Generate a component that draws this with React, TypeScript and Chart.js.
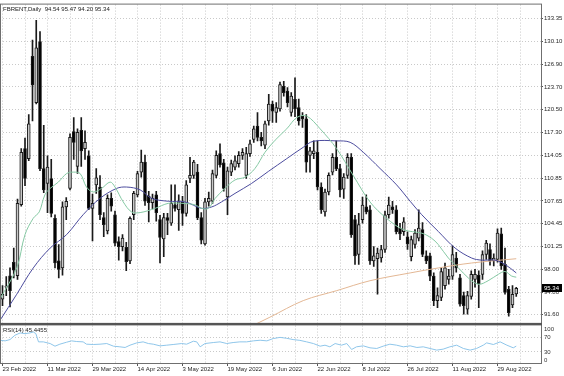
import React, { useEffect, useRef } from 'react';
import { Chart, registerables } from 'chart.js';

Chart.register(...registerables);

const symbolTitle = 'FBRENT,Daily';
const rsiTitle = 'RSI(14)';
const rsiLastText = '45.4455';

const dateLabels = [
  '23 Feb 2022', '11 Mar 2022', '29 Mar 2022', '14 Apr 2022', '3 May 2022', '19 May 2022',
  '6 Jun 2022', '22 Jun 2022', '8 Jul 2022', '26 Jul 2022', '11 Aug 2022', '29 Aug 2022',
];
const barsPerLabel = 12;
const barsPerGrid = 6;

const priceTicks = [133.35, 130.1, 126.9, 123.7, 120.5, 117.3, 114.05, 110.85, 107.65, 104.45, 101.25, 98.0, 94.8, 91.6];
const rsiGridLevels = [70, 30];
const rsiAxisLabels = [100, 70, 30, 0];

const opens = [
  93.8, 95.5, 97.1, 99.0, 97.1, 107.1, 115.0, 113.6, 128.0, 121.5,
  130.1, 112.2, 110.1, 110.8, 105.2, 99.2, 98.2, 106.8, 109.4, 117.4,
  112.5, 117.6, 115.0, 114.0, 106.6, 109.9, 109.6, 105.3, 103.4, 108.0,
  105.7, 101.9, 101.2, 101.1, 99.2, 105.7, 108.5, 111.7, 113.1, 108.3,
  107.4, 108.5, 105.0, 102.3, 105.3, 104.5, 107.1, 106.4, 107.5, 105.9,
  110.8, 111.25, 111.7, 105.3, 101.6, 107.5, 107.6, 111.25, 114.3, 113.0,
  108.2, 111.7, 112.4, 112.9, 114.05, 111.25, 114.3, 116.3, 118.2, 116.6,
  115.5, 118.9, 121.3, 120.1, 120.6, 123.8, 123.1, 120.1, 121.95, 120.8,
  119.6, 119.2, 114.05, 114.3, 114.5, 109.6, 106.1, 108.9, 111.7, 113.8,
  112.2, 109.3, 111.25, 113.8, 105.0, 100.1, 105.0, 106.8, 106.4, 99.2,
  99.5, 99.6, 100.8, 105.7, 106.8, 106.4, 103.8, 103.3, 102.6, 99.8,
  101.5, 102.4, 103.6, 99.9, 99.9, 97.05, 93.6, 94.05, 95.7, 96.6,
  97.05, 99.6, 96.8, 94.3, 92.4, 94.2, 96.6, 97.2, 97.3, 100.1,
  100.8, 99.2, 99.4, 103.0, 98.7, 95.2, 93.0, 94.54,
];
const highs = [
  95.7, 97.0, 98.2, 101.0, 107.9, 115.0, 116.5, 119.8, 130.3, 133.1,
  131.5, 118.3, 114.0, 113.5, 105.7, 101.5, 107.5, 108.1, 117.1, 119.4,
  117.8, 119.4, 117.5, 114.7, 108.6, 112.2, 111.2, 106.0, 108.5, 108.8,
  106.2, 102.6, 102.9, 101.8, 105.4, 109.0, 111.8, 114.8, 114.1, 109.0,
  108.6, 109.0, 105.6, 105.9, 105.9, 109.9, 109.9, 108.5, 108.3, 110.5,
  113.8, 113.35, 112.8, 106.0, 108.0, 108.9, 112.0, 114.7, 115.7, 113.5,
  112.4, 113.4, 114.0, 114.6, 115.0, 115.2, 116.2, 118.2, 120.1, 117.3,
  118.9, 122.65, 121.7, 121.5, 124.4, 124.5, 123.6, 122.9, 125.0, 122.0,
  120.1, 119.8, 115.2, 116.1, 116.1, 110.2, 109.3, 111.6, 114.3, 116.1,
  112.8, 111.5, 114.3, 114.3, 105.6, 105.9, 108.2, 108.5, 107.0, 101.2,
  101.0, 101.4, 106.2, 108.2, 107.6, 107.0, 104.5, 105.3, 103.3, 102.7,
  103.6, 106.4, 104.6, 100.6, 100.3, 97.5, 95.4, 98.2, 98.9, 98.0,
  101.3, 100.4, 97.3, 94.8, 94.9, 97.8, 98.0, 97.8, 100.6, 102.1,
  101.6, 100.2, 103.7, 103.8, 101.0, 95.6, 95.7, 95.47,
];
const lows = [
  92.9, 94.3, 92.7, 96.8, 96.6, 106.9, 109.8, 113.3, 118.9, 121.3,
  111.9, 108.8, 106.0, 105.4, 98.2, 96.8, 97.2, 105.0, 109.2, 113.5,
  111.5, 112.5, 113.5, 106.4, 102.0, 108.7, 105.0, 102.6, 103.0, 106.2,
  101.3, 99.3, 100.6, 97.8, 98.8, 105.0, 108.2, 111.0, 107.0, 104.7,
  106.5, 104.8, 98.9, 99.8, 102.9, 104.2, 106.2, 103.5, 104.2, 105.5,
  110.2, 110.8, 105.0, 101.6, 101.4, 106.9, 107.3, 110.9, 112.4, 109.0,
  105.7, 111.2, 112.0, 112.4, 113.5, 110.8, 113.9, 115.9, 116.1, 115.4,
  115.0, 118.3, 118.7, 118.7, 120.3, 122.4, 120.9, 119.6, 119.5, 118.3,
  118.0, 111.7, 111.7, 113.6, 109.2, 105.9, 105.5, 108.5, 111.3, 111.9,
  108.2, 108.0, 110.8, 102.5, 98.7, 98.7, 104.5, 105.8, 98.7, 98.4,
  94.5, 99.0, 100.4, 105.2, 105.9, 103.0, 102.2, 102.8, 100.8, 99.2,
  101.0, 102.0, 99.8, 98.8, 96.4, 92.9, 92.6, 93.6, 95.2, 95.9,
  96.6, 97.6, 92.8, 91.7, 91.7, 93.8, 95.5, 92.6, 96.6, 99.4,
  98.6, 98.5, 99.0, 98.0, 94.5, 91.4, 92.6, 94.2,
];
const closes = [
  94.5, 95.6, 95.0, 97.9, 107.3, 114.5, 110.8, 118.5, 124.0, 129.2,
  112.2, 109.2, 112.4, 105.9, 98.9, 98.0, 106.8, 107.6, 116.6, 115.9,
  117.3, 114.7, 115.9, 106.6, 107.3, 110.9, 105.7, 104.3, 108.0, 106.9,
  101.7, 101.2, 102.4, 99.1, 105.2, 108.7, 111.5, 113.1, 107.6, 107.4,
  108.0, 106.0, 102.5, 105.3, 104.9, 107.3, 106.6, 107.5, 105.9, 109.9,
  111.25, 113.1, 105.3, 102.1, 107.5, 108.0, 111.5, 114.05, 112.7, 109.4,
  111.9, 112.9, 113.3, 114.05, 114.5, 114.3, 115.7, 117.8, 116.6, 116.1,
  118.5, 121.3, 120.3, 120.8, 124.05, 122.9, 121.5, 122.4, 120.6, 118.9,
  119.2, 113.1, 114.7, 114.7, 109.6, 106.4, 108.9, 111.25, 113.8, 112.2,
  109.2, 111.0, 113.8, 102.9, 99.9, 104.3, 107.07, 106.1, 99.2, 99.9,
  100.3, 100.8, 105.7, 107.07, 106.4, 103.3, 103.0, 104.7, 101.6, 102.2,
  103.1, 103.8, 100.1, 99.2, 97.05, 93.6, 94.3, 97.7, 98.2, 97.05,
  100.1, 98.2, 93.1, 92.9, 94.3, 97.3, 97.3, 96.0, 100.1, 101.7,
  99.2, 99.6, 103.1, 98.5, 94.75, 91.9, 94.5, 95.34,
];

// moving averages: [bar index, price]
const maFast = [
  [-0.7, 93.8], [3.8, 98.2], [6.0, 102.9], [8.2, 105.2], [9.8, 106.1], [11.3, 108.5], [12.7, 109.4],
  [14.9, 110.3], [17.1, 111.5], [18.9, 111.7], [20.7, 111.5], [22.4, 109.6], [24.2, 108.9], [26.4, 109.4],
  [28.7, 110.3], [30.0, 109.6], [32.2, 107.5], [34.4, 106.1], [36.7, 106.0], [40.7, 106.6], [44.2, 107.3],
  [47.8, 107.3], [51.3, 107.1], [53.1, 106.6], [54.9, 106.6], [56.7, 108.0], [59.3, 109.4], [62.0, 110.6],
  [64.7, 111.0], [67.3, 112.2], [70.0, 114.5], [72.7, 116.2], [75.8, 117.8], [78.5, 119.4], [81.1, 119.6],
  [84.7, 117.8], [89.1, 115.0], [93.5, 111.25], [98.0, 107.5], [102.4, 105.2], [106.9, 103.6], [111.8, 103.1],
  [114.4, 102.4], [116.2, 101.5], [118.9, 99.6], [121.6, 98.2], [124.2, 96.8], [126.9, 95.9], [129.5, 96.4],
  [132.2, 97.3], [134.0, 97.7], [135.8, 97.05], [137.0, 96.9],
];
const maMid = [
  [-0.7, 90.8], [3.8, 94.5], [8.2, 98.2], [12.7, 101.0], [17.1, 102.9], [21.5, 105.7], [26.0, 108.0],
  [30.4, 109.4], [33.1, 109.6], [36.7, 109.2], [39.8, 108.0], [44.2, 107.6], [48.7, 107.5], [53.1, 106.6],
  [55.8, 106.8], [58.4, 107.5], [62.0, 108.7], [66.4, 110.1], [70.9, 111.8], [75.8, 113.6], [80.2, 115.2],
  [82.9, 116.05], [89.1, 116.1], [92.7, 115.9], [96.2, 114.5], [100.7, 112.2], [105.1, 109.9], [108.7, 107.6],
  [111.8, 105.7], [116.2, 103.35], [120.7, 101.0], [125.1, 99.6], [127.8, 99.3], [131.3, 99.3], [134.0, 98.7],
  [137.0, 97.5],
];
const maSlow = [
  [66.0, 89.9], [71.3, 91.26], [80.2, 93.6], [89.1, 95.0], [98.0, 96.4], [108.7, 97.5], [116.2, 98.2],
  [125.1, 98.9], [137.0, 99.5],
];
const rsiSeries = [
  [-0.7, 61.3], [0.7, 59.6], [2.0, 63.1], [3.3, 74.7], [4.7, 80.9], [6.0, 79.1], [7.3, 80.9], [8.2, 83.6],
  [8.9, 79.1], [9.6, 56.9], [10.9, 56.9], [12.7, 52.4], [14.0, 45.3], [15.3, 50.7], [17.1, 56.0], [18.4, 59.6],
  [19.8, 57.8], [21.5, 56.9], [22.4, 50.7], [24.2, 49.8], [26.0, 50.7], [27.8, 52.4], [29.6, 45.3], [31.3, 43.6],
  [32.7, 41.8], [34.0, 48.0], [35.8, 54.2], [37.5, 56.9], [38.9, 52.4], [40.2, 50.7], [42.0, 46.2], [43.8, 48.0],
  [45.5, 49.8], [47.8, 52.4], [49.1, 50.7], [50.9, 58.7], [51.8, 56.9], [52.7, 43.6], [54.0, 52.4], [56.2, 55.1],
  [58.0, 56.9], [59.8, 52.4], [61.5, 55.1], [63.3, 56.9], [65.1, 56.9], [66.9, 59.6], [68.7, 61.3], [70.5, 59.6],
  [72.2, 65.8], [74.0, 69.0], [75.8, 66.5], [77.5, 63.1], [79.3, 61.0], [81.1, 56.9], [82.9, 52.4], [84.7, 45.3],
  [86.0, 48.0], [87.3, 43.6], [88.7, 52.4], [90.4, 48.0], [91.8, 52.4], [93.1, 36.4], [94.4, 43.6], [96.2, 46.2],
  [98.0, 40.9], [99.8, 39.1], [101.5, 45.3], [103.3, 50.7], [105.1, 48.0], [106.9, 43.6], [108.7, 46.2],
  [110.5, 41.8], [112.2, 43.6], [114.0, 39.1], [115.8, 34.7], [117.5, 37.3], [119.3, 43.6], [121.1, 48.0],
  [122.9, 39.1], [124.7, 34.7], [126.4, 39.1], [128.2, 48.0], [129.1, 54.2], [130.9, 49.8], [132.7, 56.9],
  [134.5, 48.0], [136.2, 40.9], [137.0, 45.4455],
];

const UI_FONT = 'Liberation Sans';

export default function App() {
  const canvasRef = useRef<HTMLCanvasElement | null>(null);

  useEffect(() => {
    document.body.style.margin = '0';
    const canvas = canvasRef.current;
    if (!canvas) return;
    const last = closes.length - 1;
    const idx = closes.map((_, i) => i);

    const framePlugin = {
      id: 'mtFrame',
      afterDraw(chart: any) {
        const ctx = chart.ctx;
        const { left, right, top, bottom } = chart.chartArea;
        const ys = chart.scales.y;
        const rs = chart.scales.yr;
        ctx.save();
        ctx.strokeStyle = '#6f6f6f';
        ctx.lineWidth = 1;
        ctx.strokeRect(left + 0.5, top - 0.5, right - left, bottom - top + 1);
        ctx.fillStyle = '#555555';
        ctx.fillRect(left, ys.bottom - 1.5, right - left + 1, 2.5);
        ctx.font = `6px "${UI_FONT}"`;
        ctx.textBaseline = 'middle';
        ctx.textAlign = 'left';
        ctx.fillStyle = '#1a1a1a';
        ctx.fillText(
          `${symbolTitle}  ${opens[last].toFixed(2)} ${highs[last].toFixed(2)} ${lows[last].toFixed(2)} ${closes[last].toFixed(2)}`,
          left + 3, top + 5,
        );
        ctx.fillText(`${rsiTitle} ${rsiLastText}`, left + 3, rs.top + 6);
        const py = ys.getPixelForValue(closes[last]);
        ctx.fillStyle = '#000000';
        ctx.fillRect(right + 1, Math.round(py) - 4, 20, 8);
        ctx.fillStyle = '#ffffff';
        ctx.fillText(closes[last].toFixed(2), right + 3, Math.round(py));
        ctx.fillStyle = '#333333';
        rsiAxisLabels.forEach((v) => {
          let yy = rs.getPixelForValue(v);
          if (v === 100) yy += 3.5;
          if (v === 0) yy -= 3;
          ctx.fillText(String(v), right + 3, yy);
        });
        ctx.restore();
      },
    };

    const gridColor = '#c9c9c9';
    const tickFont = { family: UI_FONT, size: 6 };

    const lineDs = (label: string, pts: number[][], color: string) => ({
      type: 'line',
      label,
      data: pts.map(([x, y]) => ({ x, y })),
      borderColor: color,
      borderWidth: 1,
      pointRadius: 0,
      tension: 0.35,
      yAxisID: 'y',
      order: 1,
    });

    const chart = new Chart(canvas, {
      type: 'bar',
      data: {
        datasets: [
          lineDs('MA fast', maFast, '#86c9a4') as any,
          lineDs('MA mid', maMid, '#4d4d9e') as any,
          lineDs('MA slow', maSlow, '#e3b794') as any,
          {
            type: 'bar',
            label: 'bodies',
            data: idx.map((i) => ({ x: i, y: [opens[i], closes[i]] })),
            backgroundColor: idx.map((i) => (closes[i] >= opens[i] ? '#c8c8c8' : '#000000')),
            borderColor: '#1a1a1a',
            borderWidth: 1,
            borderSkipped: false,
            barThickness: 3,
            minBarLength: 1,
            grouped: false,
            yAxisID: 'y',
            order: 2,
          } as any,
          {
            type: 'bar',
            label: 'wicks',
            data: idx.map((i) => ({ x: i, y: [lows[i], highs[i]] })),
            backgroundColor: '#1a1a1a',
            borderWidth: 0,
            barThickness: 1,
            grouped: false,
            yAxisID: 'y',
            order: 3,
          } as any,
          {
            type: 'line',
            label: 'RSI',
            data: rsiSeries.map(([x, y]) => ({ x, y })),
            borderColor: '#8fc6ea',
            borderWidth: 1,
            pointRadius: 0,
            tension: 0,
            yAxisID: 'yr',
            order: 0,
          } as any,
        ],
      },
      options: {
        responsive: false,
        animation: false,
        devicePixelRatio: 1,
        layout: { padding: { top: 1, left: 0, right: 0, bottom: 0 } },
        plugins: { legend: { display: false }, tooltip: { enabled: false } },
        scales: {
          x: {
            type: 'linear',
            position: 'bottom',
            offset: false,
            min: -0.667,
            max: 143.6,
            afterBuildTicks: (scale: any) => {
              const t = [];
              for (let v = 0; v <= 140; v += barsPerGrid) t.push({ value: v });
              scale.ticks = t;
            },
            afterFit: (scale: any) => { scale.height = 13; },
            ticks: {
              autoSkip: false,
              maxRotation: 0,
              minRotation: 0,
              align: 'start',
              padding: 0,
              font: tickFont,
              color: '#262626',
              callback: (v: any) => (v % barsPerLabel === 0 ? dateLabels[v / barsPerLabel] || '' : ''),
            },
            grid: {
              offset: false,
              color: gridColor,
              lineWidth: 1,
              tickLength: 3,
              tickColor: (c: any) => (c.tick && c.tick.value % barsPerLabel === 0 ? '#555555' : 'rgba(0,0,0,0)'),
              tickBorderDash: [],
            },
            border: { display: false, dash: [1, 2] },
          },
          y: {
            type: 'linear',
            position: 'right',
            stack: 'panes',
            stackWeight: 323,
            min: 90.25,
            max: 135.3,
            afterBuildTicks: (scale: any) => { scale.ticks = priceTicks.map((v) => ({ value: v })); },
            afterFit: (scale: any) => { scale.width = 23; },
            ticks: {
              font: tickFont,
              color: '#262626',
              padding: 1,
              callback: (v: any) => Number(v).toFixed(2),
            },
            grid: { color: gridColor, tickLength: 2, tickColor: '#555555', tickBorderDash: [] },
            border: { display: false, dash: [1, 2] },
          },
          yr: {
            type: 'linear',
            position: 'right',
            stack: 'panes',
            stackWeight: 39,
            min: 0,
            max: 104,
            afterBuildTicks: (scale: any) => { scale.ticks = rsiGridLevels.map((v) => ({ value: v })); },
            afterFit: (scale: any) => { scale.width = 23; },
            ticks: { display: false },
            grid: { color: gridColor, drawTicks: false },
            border: { display: false, dash: [1, 2] },
          },
        },
      } as any,
      plugins: [framePlugin],
    });

    return () => chart.destroy();
  }, []);

  return (
    <div style={{ position: 'absolute', left: 0, top: 0, width: 564, height: 376, background: '#ffffff' }}>
      <canvas ref={canvasRef} width={564} height={376} style={{ display: 'block', width: 564, height: 376 }} />
    </div>
  );
}
